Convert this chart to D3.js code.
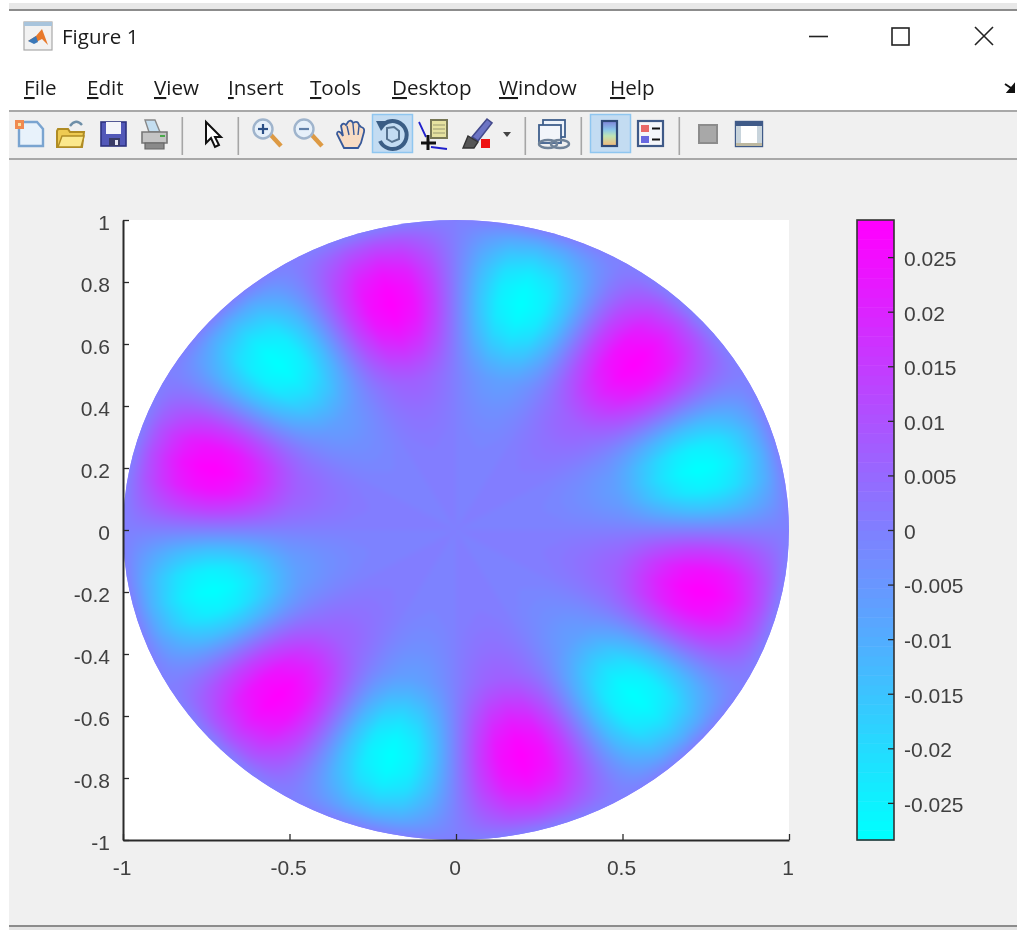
<!DOCTYPE html>
<html>
<head>
<meta charset="UTF-8">
<title>Figure 1</title>
<script src="https://d3js.org/d3.v7.min.js"></script>
<style>
    html, body { margin: 0; padding: 0; background: #fff; overflow: hidden; }
    svg { display: block; filter: blur(0.6px); }
    .tick text { font-family: "Liberation Sans", sans-serif; font-size: 21px; fill: #404040; }
    .tick line { stroke: #2a2a2a; stroke-width: 1.3px; }
    .domain { stroke: #2a2a2a; stroke-width: 2px; }
    .win { font-family: "Open Sans", sans-serif; fill: #1a1a1a; }
</style>
</head>
<body>
<script>
    // chart values
    const xTicks = [-1, -0.5, 0, 0.5, 1];
    const xTickLabels = ['-1', '-0.5', '0', '0.5', '1'];
    const yTicks = [-1, -0.8, -0.6, -0.4, -0.2, 0, 0.2, 0.4, 0.6, 0.8, 1];
    const yTickLabels = ['-1', '-0.8', '-0.6', '-0.4', '-0.2', '0', '0.2', '0.4', '0.6', '0.8', '1'];
    const barTicks = [-0.025, -0.02, -0.015, -0.01, -0.005, 0, 0.005, 0.01, 0.015, 0.02, 0.025];
    const barTickLabels = ['-0.025', '-0.02', '-0.015', '-0.01', '-0.005', '0', '0.005', '0.01', '0.015', '0.02', '0.025'];
    const colorLimit = 0.0284;

    // lobe height read along a lobe, from the middle of the disc to the rim
    const ringRadii = [0, 0.1, 0.2, 0.3, 0.4, 0.5, 0.55, 0.6, 0.65, 0.7, 0.75, 0.8, 0.85, 0.9, 0.95, 1];
    const ringPeak = [0, 0.0001, 0.0004, 0.0011, 0.0034, 0.0072, 0.0119, 0.0176, 0.0227, 0.0267, 0.0284, 0.0275, 0.0241, 0.0182, 0.0105, 0];

    // share of that height going round the disc, every 5 degrees from 0 to 360
    const sectorAngles = d3.range(0, 361, 5);
    const sectorLevel = [
        0, -0.5, -0.87, -1, -0.87, -0.5, 0, 0.5, 0.87, 1, 0.87, 0.5,
        0, -0.5, -0.87, -1, -0.87, -0.5, 0, 0.5, 0.87, 1, 0.87, 0.5,
        0, -0.5, -0.87, -1, -0.87, -0.5, 0, 0.5, 0.87, 1, 0.87, 0.5,
        0, -0.5, -0.87, -1, -0.87, -0.5, 0, 0.5, 0.87, 1, 0.87, 0.5,
        0, -0.5, -0.87, -1, -0.87, -0.5, 0, 0.5, 0.87, 1, 0.87, 0.5,
        0, -0.5, -0.87, -1, -0.87, -0.5, 0, 0.5, 0.87, 1, 0.87, 0.5,
        0
    ];

    const menuNames = ['File', 'Edit', 'View', 'Insert', 'Tools', 'Desktop', 'Window', 'Help'];
    const menuStarts = [24, 87, 154, 228, 310, 392, 499, 610];

    const width = 1017;
    const height = 931;
    const plotLeft = 123, plotRight = 789, plotTop = 220, plotBottom = 840;
    const barLeft = 857, barRight = 894;

    const svg = d3.select('body').append('svg')
        .attr('width', width)
        .attr('height', height);

    // window frame
    svg.append('rect').attr('x', 9).attr('y', 3).attr('width', width).attr('height', 6).attr('fill', '#e8e8e8');
    svg.append('rect').attr('x', 9).attr('y', 9).attr('width', width).attr('height', 2).attr('fill', '#8c8c8c');
    svg.append('rect').attr('x', 9).attr('y', 110).attr('width', width).attr('height', 2).attr('fill', '#a8a8a8');
    svg.append('rect').attr('x', 9).attr('y', 112).attr('width', width).attr('height', 814).attr('fill', '#f0f0f0');
    svg.append('rect').attr('x', 9).attr('y', 158).attr('width', width).attr('height', 2).attr('fill', '#a8a8a8');
    svg.append('rect').attr('x', 9).attr('y', 925).attr('width', width).attr('height', 2).attr('fill', '#8c8c8c');
    svg.append('rect').attr('x', 9).attr('y', 927).attr('width', width).attr('height', 3).attr('fill', '#e4e4e4');

    svg.append('text').attr('class', 'win').attr('x', 62).attr('y', 44).attr('font-size', 20.5).text('Figure 1');

    const menu = svg.append('g').attr('class', 'win').attr('font-size', 20.6);
    menuNames.forEach((name, i) => {
        const t = menu.append('text').attr('x', menuStarts[i]).attr('y', 95);
        t.append('tspan').attr('text-decoration', 'underline').text(name[0]);
        t.append('tspan').text(name.slice(1));
    });

    // window buttons
    svg.append('path').attr('d', 'M809 36.5H828').attr('stroke', '#222').attr('stroke-width', 1.6);
    svg.append('rect').attr('x', 892).attr('y', 28).attr('width', 17).attr('height', 17)
        .attr('fill', 'none').attr('stroke', '#222').attr('stroke-width', 1.6);
    svg.append('path').attr('d', 'M975 27L993 45M993 27L975 45').attr('stroke', '#222').attr('stroke-width', 1.6);
    svg.append('path').attr('d', 'M1005 84L1014 90M1014 85V92H1008Z').attr('stroke', '#111').attr('stroke-width', 2).attr('fill', '#111');

    // toolbar
    drawToolbar(svg.append('g'));

    // plot
    const x = d3.scaleLinear().domain([-1, 1]).range([plotLeft, plotRight]);
    const y = d3.scaleLinear().domain([-1, 1]).range([plotBottom, plotTop]);
    const barY = d3.scaleLinear().domain([-colorLimit, colorLimit]).range([plotBottom, plotTop]);

    const colorLevels = d3.range(64).map(i => d3.rgb(d3.interpolateRgb('#00ffff', '#ff00ff')(i / 63)));
    const color = d3.scaleQuantize().domain([-colorLimit, colorLimit]).range(colorLevels);
    const ringScale = d3.scaleLinear().domain(ringRadii).range(ringPeak).clamp(true);
    const sectorScale = d3.scaleLinear().domain(sectorAngles).range(sectorLevel);

    svg.append('rect')
        .attr('x', plotLeft).attr('y', plotTop)
        .attr('width', plotRight - plotLeft).attr('height', plotBottom - plotTop)
        .attr('fill', '#fff');

    // the surface is shaded pixel by pixel, like interpolated shading
    const canvas = document.createElement('canvas');
    const imgW = plotRight - plotLeft, imgH = plotBottom - plotTop;
    canvas.width = imgW;
    canvas.height = imgH;
    const ctx = canvas.getContext('2d');
    const image = ctx.createImageData(imgW, imgH);
    for (let py = 0; py < imgH; py++) {
        for (let px = 0; px < imgW; px++) {
            const dx = x.invert(plotLeft + px + 0.5);
            const dy = y.invert(plotTop + py + 0.5);
            const angle = (Math.atan2(dy, dx) * 180 / Math.PI + 360) % 360;
            const c = color(ringScale(Math.hypot(dx, dy)) * sectorScale(angle));
            const k = (py * imgW + px) * 4;
            image.data[k] = c.r;
            image.data[k + 1] = c.g;
            image.data[k + 2] = c.b;
            image.data[k + 3] = 255;
        }
    }
    ctx.putImageData(image, 0, 0);

    const defs = svg.append('defs');
    defs.append('clipPath').attr('id', 'disc').append('ellipse')
        .attr('cx', x(0)).attr('cy', y(0))
        .attr('rx', x(1) - x(0)).attr('ry', y(0) - y(1));
    defs.append('filter').attr('id', 'soft')
        .attr('color-interpolation-filters', 'sRGB')
        .attr('x', '-2%').attr('y', '-2%').attr('width', '104%').attr('height', '104%')
        .append('feGaussianBlur').attr('stdDeviation', 2.5);

    const disc = svg.append('g').attr('clip-path', 'url(#disc)');
    // rim colour (value 0) behind the softened image
    disc.append('rect')
        .attr('x', plotLeft).attr('y', plotTop)
        .attr('width', imgW).attr('height', imgH)
        .attr('fill', color(0));
    disc.append('image')
        .attr('x', plotLeft).attr('y', plotTop)
        .attr('width', imgW).attr('height', imgH)
        .attr('filter', 'url(#soft)')
        .attr('href', canvas.toDataURL());

    // axes
    const xAxis = svg.append('g')
        .attr('transform', `translate(0, ${plotBottom})`)
        .call(d3.axisBottom(x).tickValues(xTicks).tickFormat((d, i) => xTickLabels[i])
            .tickSizeInner(-6).tickSizeOuter(0).tickPadding(20));
    xAxis.selectAll('text').attr('dx', '-1.5');

    svg.append('g')
        .attr('transform', `translate(${plotLeft}, 0)`)
        .call(d3.axisLeft(y).tickValues(yTicks).tickFormat((d, i) => yTickLabels[i])
            .tickSizeInner(-6).tickSizeOuter(0).tickPadding(13))
        .selectAll('text').attr('dy', '0.44em');

    // colorbar
    svg.append('g').selectAll('rect')
        .data(colorLevels)
        .enter()
        .append('rect')
        .attr('x', barLeft)
        .attr('width', barRight - barLeft)
        .attr('y', (d, i) => barY(-colorLimit + (i + 1) * 2 * colorLimit / 64))
        .attr('height', (plotBottom - plotTop) / 64 + 0.5)
        .attr('fill', d => d);

    svg.append('rect')
        .attr('x', barLeft).attr('y', plotTop)
        .attr('width', barRight - barLeft).attr('height', plotBottom - plotTop)
        .attr('fill', 'none').attr('stroke', '#333').attr('stroke-width', 1.6);

    svg.append('g')
        .attr('transform', `translate(${barRight}, 0)`)
        .call(d3.axisRight(barY).tickValues(barTicks).tickFormat((d, i) => barTickLabels[i])
            .tickSizeInner(-6).tickSizeOuter(0).tickPadding(10))
        .call(g => g.select('.domain').remove())
        .selectAll('text').attr('dy', '0.4em');

    function drawToolbar(g) {
        const poly = (pts, fill, stroke, sw) => g.append('path').attr('d', pts)
            .attr('fill', fill || 'none').attr('stroke', stroke || 'none').attr('stroke-width', sw || 1);
        const box = (bx, by, w, h, fill, stroke, sw) => g.append('rect')
            .attr('x', bx).attr('y', by).attr('width', w).attr('height', h)
            .attr('fill', fill || 'none').attr('stroke', stroke || 'none').attr('stroke-width', sw || 1);

        // title bar icon
        box(24, 22, 28, 28, '#f2f2f2', '#a8a8a8', 1.2);
        box(24, 22, 28, 4, '#a8c4dc');
        poly('M28 41L36 36L42 29L48 45L42 39L36 42Z', '#e8792b');
        poly('M28 41L36 36L38 42L34 44Z', '#3a78b8');

        // separators
        [182, 238, 525, 581, 679].forEach(sx => box(sx - 0.5, 117, 1.6, 38, '#a6a6a6'));

        // highlighted buttons
        box(372.5, 114.5, 40, 38, '#c3dcf2', '#8fc6f0', 1.5);
        box(590.5, 114.5, 40, 38, '#c3dcf2', '#8fc6f0', 1.5);

        // new
        poly('M19 122H37L43 129V146H19Z', '#e8f2fb', '#7aa4d0', 2.4);
        poly('M15 120L24 120L24 129L15 129Z', '#f08a50');
        box(18, 123, 3, 3, '#fbe3a0');
        // open
        poly('M57 131V147H82L84 132H70L68 129H58Z', '#eeca52', '#b08c24', 2);
        poly('M58 147L62 136H84L81 147Z', '#fbe88c', '#b08c24', 1.4);
        poly('M70 126Q76 118 82 125', 'none', '#6f8fa8', 2.4);
        // save
        box(101, 122, 25, 24, '#5258b8', '#2e3380', 1.6);
        box(106, 122, 15, 12, '#f4f4fa');
        box(109, 138, 11, 8, '#3a3c66');
        box(115, 140, 3, 5, '#e8e8f4');
        // print
        poly('M145 120H155L160 132H149Z', '#c4def0', '#888', 1.4);
        poly('M142 132H167V143H142Z', '#c4c4c4', '#777', 1.6);
        poly('M145 143H164V149H145Z', '#8a8a8a', '#666', 1.2);
        box(160, 135, 5, 2, '#4aa84a');
        // pointer
        poly('M206 122V143L211 138L215 147L219 145L215 137L221 137Z', '#fff', '#111', 2);

        // zoom in, zoom out
        [[267, true], [308, false]].forEach(([cx, plus]) => {
            poly(`M${cx + 3} ${130 + 4}L${cx + 14} 146`, 'none', '#dd9a44', 4.5);
            g.append('circle').attr('cx', cx - 4).attr('cy', 129).attr('r', 9.5)
                .attr('fill', '#e6f0fa').attr('stroke', '#9fb4cc').attr('stroke-width', 2.4);
            poly(`M${cx - 9} 129H${cx + 1}`, 'none', plus ? '#2b4f86' : '#5f7fa8', 2.2);
            if (plus) poly(`M${cx - 4} 124V134`, 'none', '#2b4f86', 2.2);
        });
        // hand
        poly('M344 148L337 134Q337 130 341 133L343 136L341 126Q343 122 346 125L348 122Q351 119 353 123L355 122Q358 121 359 125L361 127Q365 128 364 132L361 143L358 148Z',
            '#f8dcc4', '#37599a', 1.8);
        poly('M347 126L349 135M353 124L354 135M359 126L358 135', 'none', '#37599a', 1.4);
        // rotate
        poly('M384 124A14 14 0 1 1 380 141', 'none', '#3a5d85', 4);
        poly('M376 121L389 121L381 131Z', '#3a5d85');
        poly('M387 128L394 127L399 131V139L392 142L387 139Z', 'none', '#55728f', 2);
        // data cursor
        box(431, 120, 16, 18, '#e6e2a0', '#777755', 2);
        poly('M433 125H445M433 129H445M433 133H445', 'none', '#9a9a70', 1);
        poly('M419 122L426 137M431 147L447 149', 'none', '#2020cc', 1.8);
        poly('M428 135V150M421 143H436', 'none', '#111', 3);
        // brush
        poly('M472 137L487 119L492 123L478 141Z', '#6c74c4', '#444a8c', 1.6);
        poly('M463 148L468 136L478 142L474 148Z', '#555', '#333', 1.4);
        box(481, 139, 9, 9, '#ee1111');
        poly('M503 132H511L507 137Z', '#444');

        // link
        box(543, 120, 22, 17, '#eef3fa', '#3f5f8c', 1.8);
        box(539, 125, 22, 18, '#f2f5fa', '#3f5f8c', 1.8);
        g.append('ellipse').attr('cx', 548).attr('cy', 144).attr('rx', 9).attr('ry', 4).attr('fill', 'none').attr('stroke', '#6f8298').attr('stroke-width', 2.4);
        g.append('ellipse').attr('cx', 560).attr('cy', 144).attr('rx', 9).attr('ry', 4).attr('fill', 'none').attr('stroke', '#6f8298').attr('stroke-width', 2.4);

        // colorbar toggle
        const grad = svg.append('defs').append('linearGradient').attr('id', 'parula').attr('x1', 0).attr('y1', 0).attr('x2', 0).attr('y2', 1);
        [['0', '#7f82d8'], ['0.35', '#8ac6ea'], ['0.6', '#bfe4b4'], ['1', '#f4b878']].forEach(s =>
            grad.append('stop').attr('offset', s[0]).attr('stop-color', s[1]));
        box(602, 121, 15, 25, 'url(#parula)', '#2f4a78', 2.2);
        // legend toggle
        box(638, 121, 25, 25, '#f4f6fa', '#3f5a88', 2.2);
        box(641, 125, 8, 7, '#e86868');
        box(641, 136, 8, 7, '#6868e0');
        poly('M652 128.5H660M652 139.5H660', 'none', '#111', 2);
        // grey box
        box(699, 125, 18, 18, '#a8a8a8', '#8c8c8c', 2);
        // plot box
        box(736, 122, 26, 24, '#fff', '#3f5a88', 2.4);
        box(736, 122, 26, 4, '#3f5a88');
        box(736, 143, 26, 3, '#bdb8a0');
        box(736, 126, 5, 17, '#c8d4dc');
        box(757, 126, 5, 17, '#c8d4dc');
    }
</script>
</body>
</html>
